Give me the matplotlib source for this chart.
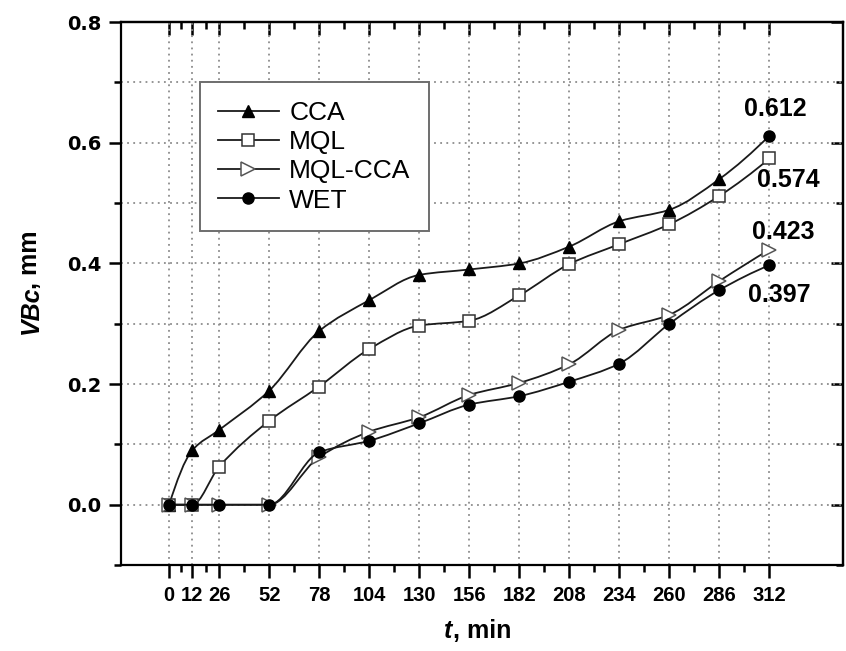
import numpy as np
import matplotlib
matplotlib.use('Agg')
from matplotlib import pyplot as plt
from matplotlib.path import Path
from matplotlib.patches import PathPatch
from matplotlib.lines import Line2D

# cutting time, min
t = [0, 12, 26, 52, 78, 104, 130, 156, 182, 208, 234, 260, 286, 312]

# flank wear VBc, mm
cca = [0, 0.090, 0.124, 0.189, 0.288, 0.339, 0.381, 0.390, 0.400, 0.428, 0.470, 0.489, 0.540, 0.612]
mql = [0, 0, 0.063, 0.139, 0.196, 0.258, 0.297, 0.305, 0.347, 0.399, 0.432, 0.465, 0.512, 0.574]
mql_cca = [0, 0, 0, 0, 0.079, 0.121, 0.145, 0.182, 0.202, 0.233, 0.290, 0.315, 0.371, 0.423]
wet = [0, 0, 0, 0, 0.087, 0.106, 0.135, 0.166, 0.180, 0.204, 0.234, 0.300, 0.356, 0.397]

xtick_labels = [str(v) for v in t]
yticks = [0.0, 0.2, 0.4, 0.6, 0.8]
ytick_labels = ['0.0', '0.2', '0.4', '0.6', '0.8']

LIB = ['Liberation Sans', 'DejaVu Sans']


def smooth_path(x, y):
    # shape preserving cubic (pchip-like) through the points, as bezier segments
    x = np.asarray(x, float)
    y = np.asarray(y, float)
    n = len(x)
    h = np.diff(x)
    d = np.diff(y) / h
    m = np.zeros(n)
    for k in range(1, n - 1):
        if d[k - 1] * d[k] > 0:
            w1 = 2 * h[k] + h[k - 1]
            w2 = h[k] + 2 * h[k - 1]
            m[k] = (w1 + w2) / (w1 / d[k - 1] + w2 / d[k])

    def edge(h0, h1, d0, d1):
        s = ((2 * h0 + h1) * d0 - h0 * d1) / (h0 + h1)
        if np.sign(s) != np.sign(d0):
            return 0.0
        if np.sign(d0) != np.sign(d1) and abs(s) > 3 * abs(d0):
            return 3 * d0
        return s

    m[0] = edge(h[0], h[1], d[0], d[1])
    m[-1] = edge(h[-1], h[-2], d[-1], d[-2])
    verts = [(x[0], y[0])]
    codes = [Path.MOVETO]
    for i in range(n - 1):
        verts += [(x[i] + h[i] / 3, y[i] + m[i] * h[i] / 3),
                  (x[i + 1] - h[i] / 3, y[i + 1] - m[i + 1] * h[i] / 3),
                  (x[i + 1], y[i + 1])]
        codes += [Path.CURVE4] * 3
    return Path(verts, codes)


fig = plt.figure(figsize=(8.46, 6.51), dpi=100)
ax = fig.add_axes([0.143, 0.132, 0.853, 0.834])

line_c = '#1a1a1a'
series = [
    ('CCA', cca, dict(marker='^', ms=9, mfc='black', mec='black')),
    ('MQL', mql, dict(marker='s', ms=8, mfc='white', mec='#333333', mew=1.1)),
    ('MQL-CCA', mql_cca, dict(marker='>', ms=10, mfc='white', mec='#555555', mew=1.1)),
    ('WET', wet, dict(marker='o', ms=8, mfc='black', mec='black')),
]

handles = []
for k, (name, vals, mk) in enumerate(series):
    ax.add_patch(PathPatch(smooth_path(t, vals), fill=False, lw=1.3,
                           ec=line_c, zorder=3 + k))
    if name == 'CCA':
        # last CCA point is drawn as a dot in the original figure
        ax.plot(t[:-1], vals[:-1], ls='none', zorder=3.5 + k, **mk)
        ax.plot(t[-1:], vals[-1:], ls='none', marker='o', ms=8,
                mfc='black', mec='black', zorder=8)
    else:
        ax.plot(t, vals, ls='none', zorder=3.5 + k, **mk)
    handles.append(Line2D([], [], color=line_c, lw=1.3, label=name, **mk))

# end values
ends = [(cca[-1], 3, 0.044), (mql[-1], 10, -0.036), (mql_cca[-1], 7, 0.029), (wet[-1], 5, -0.049)]
for v, dx, dy in ends:
    ax.text(t[-1] + dx, v + dy, f'{v:.3f}', ha='center', va='center',
            fontsize=18, fontweight='bold', family=LIB, zorder=10)

ax.set_xlim(-25, 350)
ax.set_ylim(-0.1, 0.8)

mids = [(a + b) / 2 for a, b in zip(t[:-1], t[1:])]
ax.set_xticks(t)
ax.set_xticks(mids, minor=True)
ax.set_xticklabels(xtick_labels, fontsize=14.5, fontweight='bold', family=LIB)
ax.set_yticks(yticks)
ax.set_yticks(np.arange(-0.1, 0.81, 0.2), minor=True)
ax.set_yticklabels(ytick_labels, fontsize=14, fontweight='bold', family=['DejaVu Sans'])

ax.set_axisbelow(True)
grid_kw = dict(color='#8c8c8c', ls=(0, (1.0, 2.4)), lw=1.3)
ax.grid(which='major', axis='x', **grid_kw)
ax.grid(which='both', axis='y', **grid_kw)

for s in ax.spines.values():
    s.set_linewidth(1.6)

ax.tick_params(axis='both', which='major', direction='out', length=9, width=1.8)
ax.tick_params(axis='both', which='minor', direction='out', length=5, width=1.8)
ax.tick_params(axis='x', which='major', pad=6)
ax.tick_params(axis='y', which='major', pad=5)

top = ax.secondary_xaxis('top')
top.set_xticks(t)
top.set_xticks(mids, minor=True)
top.tick_params(which='major', direction='in', length=9, width=1.8, labeltop=False)
top.tick_params(which='minor', direction='in', length=5, width=1.8)
top.spines['top'].set_linewidth(1.6)

right = ax.secondary_yaxis('right')
right.set_yticks(yticks)
right.set_yticks(np.arange(-0.1, 0.81, 0.2), minor=True)
right.tick_params(which='major', direction='in', length=9, width=1.8, labelright=False)
right.tick_params(which='minor', direction='in', length=5, width=1.8)
right.spines['right'].set_linewidth(1.6)

# axis titles: italic symbol + upright unit
fig.text(0.535, 0.030, 't', fontsize=18, fontweight='bold', fontstyle='italic',
         family=LIB, ha='right', va='center')
fig.text(0.535, 0.030, ', min', fontsize=18, fontweight='bold',
         family=LIB, ha='left', va='center')
fig.text(0.036, 0.562, 'VBc', fontsize=18, fontweight='bold', fontstyle='italic',
         family=LIB, ha='center', va='top', rotation=90)
fig.text(0.036, 0.556, ', mm', fontsize=18, fontweight='bold',
         family=LIB, ha='center', va='bottom', rotation=90)

leg = ax.legend(handles=handles, loc='upper left', bbox_to_anchor=(0.109, 0.889),
                borderaxespad=0, prop=dict(family=LIB, size=19),
                handlelength=2.3, handletextpad=0.4, labelspacing=0.2,
                borderpad=0.7, fancybox=False, framealpha=1)
leg.get_frame().set_edgecolor('#6e6e6e')
leg.get_frame().set_linewidth(1.4)
leg.set_zorder(12)

fig.savefig('out.png', dpi=100)
